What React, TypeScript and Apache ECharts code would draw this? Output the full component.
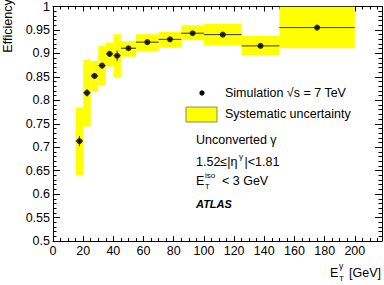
import React, { useEffect, useRef } from "react";
import * as echarts from "echarts";

// Bin edges (GeV), bin centres, efficiency values and uncertainties
const binLow = [15, 20, 25, 30, 35, 40, 45, 55, 70, 85, 100, 125, 150];
const binHigh = [20, 25, 30, 35, 40, 45, 55, 70, 85, 100, 125, 150, 200];
const binCenter = [17.5, 22.5, 27.5, 32.5, 37.5, 42.5, 50, 62.5, 77.5, 92.5, 112.5, 137.5, 175];
const efficiency = [0.713, 0.816, 0.852, 0.874, 0.899, 0.895, 0.911, 0.924, 0.930, 0.943, 0.940, 0.916, 0.955];
const statError = [0.011, 0.008, 0.006, 0.006, 0.006, 0.011, 0.004, 0.003, 0.003, 0.003, 0.003, 0.004, 0.004];
const systLow = [0.640, 0.744, 0.820, 0.832, 0.872, 0.848, 0.893, 0.905, 0.912, 0.928, 0.917, 0.896, 0.911];
const systHigh = [0.784, 0.886, 0.884, 0.916, 0.923, 0.941, 0.926, 0.941, 0.946, 0.960, 0.963, 0.937, 1.0];

const xTitle = "[GeV]";
const yTitle = "Efficiency";

const FONT = "'Liberation Sans', Arial, Helvetica, sans-serif";

export default function App() {
  const ref = useRef<HTMLDivElement>(null);

  useEffect(() => {
    if (!ref.current) return;
    const chart = echarts.init(ref.current, undefined, { renderer: "svg" });

    const boxData = binLow.map((lo, i) => [lo, binHigh[i], systLow[i], systHigh[i]]);
    const errData = binLow.map((lo, i) => [lo, binHigh[i], binCenter[i], efficiency[i], statError[i]]);
    const pointData = binCenter.map((c, i) => [c, efficiency[i]]);

    const tickStyle = { color: "#000", width: 1 };
    const xAxisBase = {
      type: "value",
      min: 0,
      max: 218,
      interval: 20,
      axisLine: { show: true, onZero: false, lineStyle: tickStyle },
      axisTick: { show: true, inside: true, length: 5, lineStyle: tickStyle },
      minorTick: { show: true, splitNumber: 4, length: 3, lineStyle: tickStyle },
      splitLine: { show: false },
      minorSplitLine: { show: false },
    };
    const yAxisBase = {
      type: "value",
      min: 0.5,
      max: 1,
      interval: 0.05,
      axisLine: { show: true, onZero: false, lineStyle: tickStyle },
      axisTick: { show: true, inside: true, length: 7, lineStyle: tickStyle },
      minorTick: { show: true, splitNumber: 5, length: 3.5, lineStyle: tickStyle },
      splitLine: { show: false },
      minorSplitLine: { show: false },
    };

    const txt = (x: number, y: number, text: string, size: number, extra: any = {}) => ({
      type: "text",
      x,
      y,
      silent: true,
      style: {
        text,
        fontSize: size,
        fontFamily: FONT,
        fill: "#000",
        textAlign: "left",
        textVerticalAlign: "middle",
        ...extra,
      },
    });

    chart.setOption({
      animation: false,
      textStyle: { fontFamily: FONT },
      grid: { left: 53, right: 2, top: 6, bottom: 44, containLabel: false },
      xAxis: [
        {
          ...xAxisBase,
          position: "bottom",
          axisLabel: { show: true, fontSize: 12.5, color: "#000", margin: 3, showMaxLabel: false, fontFamily: FONT },
        },
        {
          ...xAxisBase,
          position: "top",
          axisLabel: { show: false },
        },
      ],
      yAxis: [
        {
          ...yAxisBase,
          position: "left",
          axisLabel: { show: true, fontSize: 12.5, color: "#000", margin: 3, fontFamily: FONT },
        },
        {
          ...yAxisBase,
          position: "right",
          axisLabel: { show: false },
        },
      ],
      series: [
        {
          type: "custom",
          name: "Systematic uncertainty",
          xAxisIndex: 0,
          yAxisIndex: 0,
          clip: true,
          data: boxData,
          encode: { x: [0, 1], y: [2, 3] },
          renderItem: (params: any, api: any) => {
            const p1 = api.coord([api.value(0), api.value(3)]);
            const p2 = api.coord([api.value(1), api.value(2)]);
            return {
              type: "rect",
              shape: { x: p1[0], y: p1[1], width: p2[0] - p1[0], height: p2[1] - p1[1] },
              style: { fill: "#ffff00", stroke: null },
            };
          },
          z: 1,
        },
        {
          type: "custom",
          name: "errors",
          xAxisIndex: 0,
          yAxisIndex: 0,
          clip: true,
          data: errData,
          encode: { x: [0, 1], y: 3 },
          renderItem: (params: any, api: any) => {
            const lo = api.value(0);
            const hi = api.value(1);
            const c = api.value(2);
            const v = api.value(3);
            const e = api.value(4);
            const a = api.coord([lo, v]);
            const b = api.coord([hi, v]);
            const d = api.coord([c, v - e]);
            const u = api.coord([c, v + e]);
            return {
              type: "group",
              children: [
                {
                  type: "line",
                  shape: { x1: a[0], y1: a[1], x2: b[0], y2: b[1] },
                  style: { stroke: "#333", lineWidth: 1 },
                },
                {
                  type: "line",
                  shape: { x1: d[0], y1: d[1], x2: u[0], y2: u[1] },
                  style: { stroke: "#333", lineWidth: 1 },
                },
              ],
            };
          },
          z: 2,
        },
        {
          type: "scatter",
          name: "Simulation",
          xAxisIndex: 0,
          yAxisIndex: 0,
          data: pointData,
          symbol: "circle",
          symbolSize: 6,
          itemStyle: { color: "#000" },
          z: 3,
        },
      ],
      graphic: [
        // y title
        {
          type: "text",
          x: 8,
          y: 26,
          rotation: Math.PI / 2,
          silent: true,
          style: {
            text: yTitle,
            fontSize: 12.5,
            fontFamily: FONT,
            fill: "#000",
            textAlign: "center",
            textVerticalAlign: "middle",
          },
        },
        // x title: E_T^gamma [GeV]
        txt(330, 273, "E", 12.5),
        txt(339, 278.5, "T", 8),
        txt(339, 266, "γ", 8.5),
        txt(349, 273, xTitle, 12.5),
        // legend
        { type: "circle", shape: { cx: 202, cy: 93, r: 2.6 }, style: { fill: "#000" }, silent: true },
        txt(225, 93, "Simulation √s = 7 TeV", 12.5),
        {
          type: "rect",
          shape: { x: 186, y: 107, width: 31, height: 15 },
          style: { fill: "#ffff00", stroke: "#8a8a5a", lineWidth: 1 },
          silent: true,
        },
        txt(225, 114, "Systematic uncertainty", 12.5),
        // annotations
        txt(196, 140, "Unconverted γ", 12.5),
        txt(196, 161.5, "1.52≤|η", 12.5),
        txt(239, 156, "γ", 8),
        txt(244.5, 161.5, "|<1.81", 12.5),
        txt(196, 181, "E", 12.5),
        txt(205, 186, "T", 7.5),
        txt(205, 175.5, "iso", 8),
        txt(222, 181, "< 3 GeV", 12.5),
        txt(196, 204, "ATLAS", 11, { fontWeight: "bold", fontStyle: "italic" }),
      ],
    });

    return () => chart.dispose();
  }, []);

  return (
    <div
      ref={ref}
      style={{ position: "fixed", left: 0, top: 0, width: 384, height: 285, background: "#fff" }}
    />
  );
}
